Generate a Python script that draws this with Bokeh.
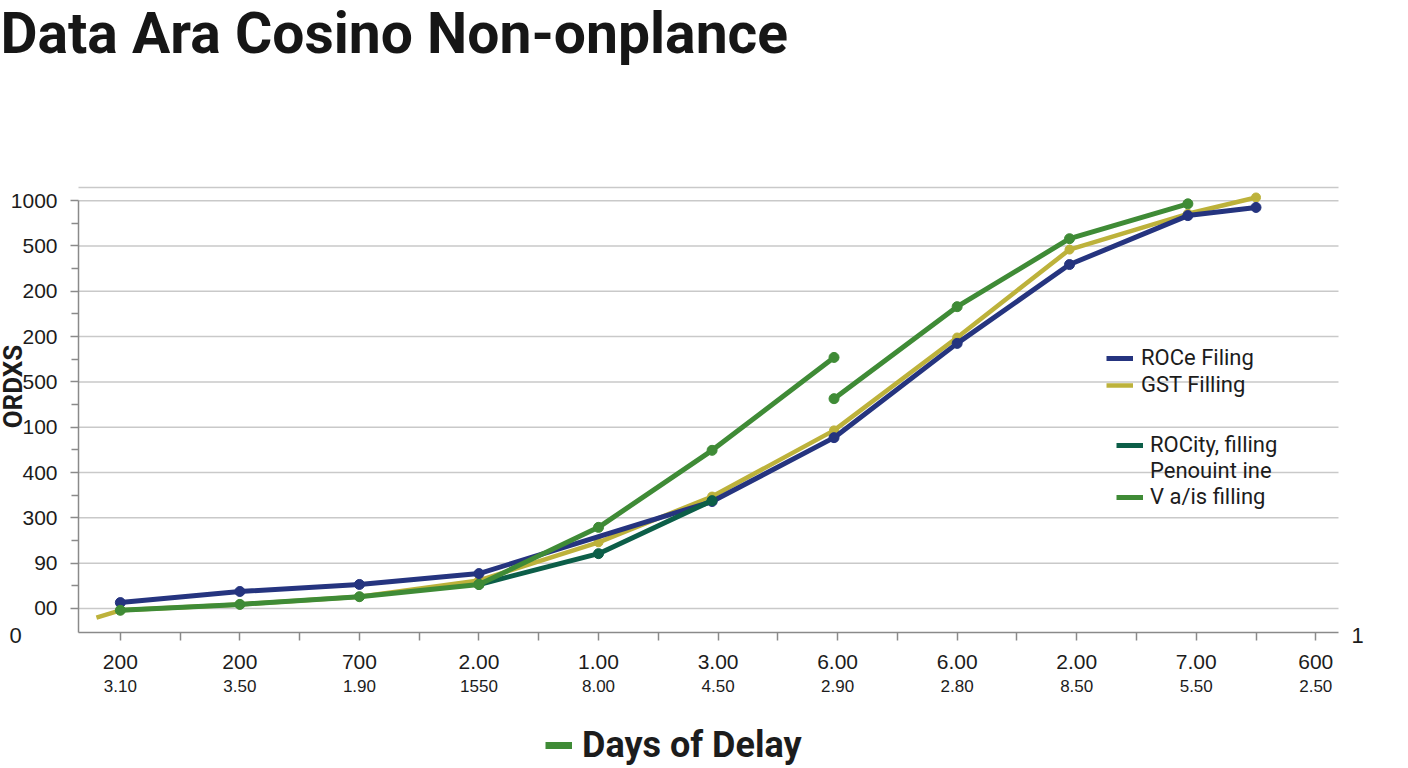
from bokeh.plotting import figure
from bokeh.models import Legend, LegendItem, LinearAxis, FixedTicker, Range1d, Label
from bokeh.embed import file_html
from bokeh.resources import INLINE
import math

# ---------------- data ----------------
title_text = "Data Ara Cosino Non-onplance"
y_axis_title = "ORDXS"
x_axis_title = "Days of Delay"
y_tick_labels = ["00", "90", "300", "400", "100", "500", "200", "200", "500", "1000"]
y_origin_label = "0"
x_end_label = "1"
x_top_labels = ["200", "200", "700", "2.00", "1.00", "3.00", "6.00", "6.00", "2.00", "7.00", "600"]
x_bottom_labels = ["3.10", "3.50", "1.90", "1550", "8.00", "4.50", "2.90", "2.80", "8.50", "5.50", "2.50"]

roce_x = [0, 1, 2, 3, 4.95, 5.97, 7.0, 7.94, 8.93, 9.5]
roce_y = [0.13, 0.375, 0.53, 0.77, 2.36, 3.77, 5.85, 7.59, 8.67, 8.85]

gst_x = [-0.2, 0, 1, 2, 3, 4, 4.95, 5.97, 7.0, 7.94, 8.93, 9.5]
gst_y = [-0.2, -0.04, 0.09, 0.26, 0.62, 1.46, 2.47, 3.93, 5.98, 7.92, 8.71, 9.07]

rocity_x = [3, 4, 4.95]
rocity_y = [0.53, 1.21, 2.38]

vais_x = [0, 1, 2, 3, 4, 4.95, 5.97, math.nan, 5.97, 7.0, 7.94, 8.93]
vais_y = [-0.04, 0.09, 0.26, 0.53, 1.79, 3.49, 5.54, math.nan, 4.63, 6.66, 8.16, 8.93]

# ---------------- layout / styles ----------------
NAVY = "#25347f"
YELLOW = "#bdb23b"
TEAL = "#0c5e48"
GREEN = "#3f8b36"
GRID = "#c9c9c9"
AXIS = "#8a8a8a"
TXT = "#1c1c1c"

W, H = 1408, 768
# axis extents in data units and where they sit on the canvas (pixels)
XA0, XA1 = -0.35, 10.19
YA0, YA1 = -0.53, 9.29
FL, FR, FT, FB = 78, 1338, 187, 632
SX = (FR - FL) / (XA1 - XA0)
SY = (FB - FT) / (YA1 - YA0)
X_START, X_END = XA0 - FL / SX, XA1 + (W - FR) / SX
Y_END, Y_START = YA1 + FT / SY, YA0 - (H - FB) / SY


def cx(px):
    return X_START + px / SX


def cy(py):
    return Y_END - py / SY


p = figure(width=W, height=H, output_backend="svg", toolbar_location=None,
           x_range=Range1d(X_START, X_END), y_range=Range1d(Y_START, Y_END),
           min_border=0, x_axis_location=None, y_axis_location=None)
p.outline_line_color = None
p.background_fill_color = "white"
p.border_fill_color = "white"
p.xgrid.visible = False
p.ygrid.visible = False


def plain_axis(ax):
    ax.axis_line_color = None
    ax.major_tick_line_color = None
    ax.minor_tick_line_color = None
    ax.major_tick_in = 0
    ax.major_tick_out = 0
    ax.minor_tick_in = 0
    ax.minor_tick_out = 0


# grid lines (at the y ticks, plus the frame top)
grid_y = list(range(10)) + [YA1]
p.segment(x0=[XA0] * len(grid_y), y0=grid_y, x1=[XA1] * len(grid_y), y1=grid_y,
          line_color=GRID, line_width=1.5)

# ---- y axis ----
yax = LinearAxis(ticker=FixedTicker(ticks=list(range(10)), minor_ticks=[i + 0.5 for i in range(9)]),
                 major_label_overrides={i: t for i, t in enumerate(y_tick_labels)},
                 fixed_location=XA0, bounds=(YA0, 9.0))
yax.axis_line_color = AXIS
yax.axis_line_width = 1.5
yax.major_tick_line_color = AXIS
yax.major_tick_line_width = 1.5
yax.minor_tick_line_color = AXIS
yax.minor_tick_line_width = 1.5
yax.major_tick_in = 0
yax.major_tick_out = 8
yax.minor_tick_in = 0
yax.minor_tick_out = 7
yax.major_label_standoff = 13
yax.major_label_text_font = "Liberation Sans"
yax.major_label_text_font_size = "21px"
yax.major_label_text_color = TXT
p.add_layout(yax, "left")

# ---- x axis (two rows of tick labels) ----
xax = LinearAxis(ticker=FixedTicker(ticks=list(range(11)), minor_ticks=[i + 0.5 for i in range(10)]),
                 major_label_overrides={i: t for i, t in enumerate(x_top_labels)},
                 fixed_location=YA0, bounds=(XA0, XA1))
xax.axis_line_color = AXIS
xax.axis_line_width = 1.5
xax.major_tick_line_color = AXIS
xax.major_tick_line_width = 1.5
xax.minor_tick_line_color = AXIS
xax.minor_tick_line_width = 1.5
xax.major_tick_in = 0
xax.major_tick_out = 8
xax.minor_tick_in = 0
xax.minor_tick_out = 8
xax.major_label_standoff = 14
xax.major_label_text_font = "Liberation Sans"
xax.major_label_text_font_size = "21px"
xax.major_label_text_color = TXT
p.add_layout(xax, "below")

xax2 = LinearAxis(ticker=FixedTicker(ticks=list(range(11))),
                  major_label_overrides={i: t for i, t in enumerate(x_bottom_labels)},
                  fixed_location=YA0, bounds=(XA0, XA1))
plain_axis(xax2)
xax2.major_label_standoff = 47
xax2.major_label_text_font = "Liberation Sans"
xax2.major_label_text_font_size = "17px"
xax2.major_label_text_color = TXT
p.add_layout(xax2, "below")

# ---- series ----
r_gst = p.line(gst_x, gst_y, line_color=YELLOW, line_width=4.5)
p.scatter(gst_x[1:], gst_y[1:], size=9, color=YELLOW)
r_roce = p.line(roce_x, roce_y, line_color=NAVY, line_width=5)
p.scatter(roce_x, roce_y, size=10, color=NAVY)
r_rocity = p.line(rocity_x, rocity_y, line_color=TEAL, line_width=5)
p.scatter(rocity_x, rocity_y, size=10, color=TEAL)
r_vais = p.line(vais_x, vais_y, line_color=GREEN, line_width=5)
p.scatter(vais_x, vais_y, size=10, color=GREEN)
r_blank = p.line(vais_x[:1], vais_y[:1], line_alpha=0)
r_key = p.line(vais_x[:1], vais_y[:1], line_color=GREEN, line_width=7)


def style_legend(lg, font_size, spacing, standoff, bold=False):
    lg.border_line_color = None
    lg.background_fill_alpha = 0
    lg.padding = 0
    lg.margin = 0
    lg.glyph_width = 27
    lg.glyph_height = 20
    lg.label_height = 20
    lg.spacing = spacing
    lg.label_standoff = standoff
    lg.label_text_font = "Roboto"
    lg.label_text_font_size = font_size
    lg.label_text_color = TXT
    if bold:
        lg.label_text_font_style = "bold"


lg1 = Legend(items=[LegendItem(label="ROCe Filing", renderers=[r_roce]),
                    LegendItem(label="GST Filling", renderers=[r_gst])],
             location=(1106, 371))
style_legend(lg1, "22px", 2, 8)
p.add_layout(lg1)

lg2 = Legend(items=[LegendItem(label="ROCity, filling", renderers=[r_rocity]),
                    LegendItem(label="Penouint ine", renderers=[r_blank]),
                    LegendItem(label="V a/is filling", renderers=[r_vais])],
             location=(1116, 259))
style_legend(lg2, "22px", 1, 7)
p.add_layout(lg2)

lg3 = Legend(items=[LegendItem(label=x_axis_title, renderers=[r_key])],
             location=(545, 2))
style_legend(lg3, "36px", 0, 10, bold=True)
lg3.label_height = 30
lg3.glyph_height = 30
p.add_layout(lg3)

# ---- free texts ----
p.add_layout(Label(x=cx(0), y=cy(33), text=title_text, text_font="Roboto",
                   text_font_style="bold", text_font_size="57px", text_color="#161616",
                   text_baseline="alphabetic", text_align="left"))
p.add_layout(Label(x=cx(12), y=cy(386), text=y_axis_title, text_font="Roboto",
                   text_font_style="bold", text_font_size="26px", text_color=TXT,
                   angle=math.pi / 2, text_align="center", text_baseline="alphabetic"))
p.add_layout(Label(x=cx(9), y=cy(635), text=y_origin_label, text_font="Liberation Sans",
                   text_font_size="22px", text_color=TXT, text_align="left", text_baseline="middle"))
p.add_layout(Label(x=cx(1351), y=cy(635), text=x_end_label, text_font="Liberation Sans",
                   text_font_size="22px", text_color=TXT, text_align="left", text_baseline="middle"))

open("out.html", "w").write(file_html(p, INLINE))
